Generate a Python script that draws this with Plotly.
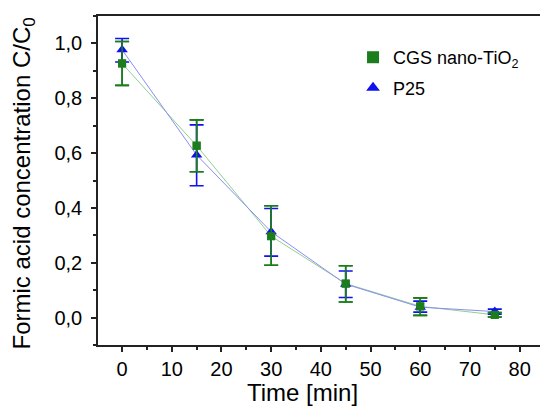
import plotly.graph_objects as go

time_min = [0, 15, 30, 45, 60, 75]

cgs_values = [0.927, 0.627, 0.297, 0.124, 0.041, 0.010]
cgs_err_plus = [0.080, 0.094, 0.111, 0.065, 0.031, 0.008]
cgs_err_minus = [0.080, 0.095, 0.106, 0.067, 0.033, 0.008]

p25_values = [0.977, 0.593, 0.313, 0.122, 0.038, 0.022]
p25_err_plus = [0.041, 0.110, 0.085, 0.048, 0.022, 0.009]
p25_err_minus = [0.045, 0.112, 0.089, 0.049, 0.018, 0.010]

series_names = ["CGS nano-TiO<sub>2</sub>", "P25"]

green = "#1c7d1c"
blue = "#1010f0"

fig = go.Figure()

# connecting lines (thin, light)
fig.add_trace(go.Scatter(x=time_min, y=cgs_values, mode="lines",
                         line=dict(color="#8fd08f", width=1), showlegend=False, hoverinfo="skip"))
fig.add_trace(go.Scatter(x=time_min, y=p25_values, mode="lines",
                         line=dict(color="#8c8cf5", width=1), showlegend=False, hoverinfo="skip"))

fig.add_trace(go.Scatter(
    x=time_min, y=cgs_values, mode="markers", name=series_names[0], legendgroup="a",
    marker=dict(symbol="square", size=8, color=green),
    error_y=dict(type="data", symmetric=False, array=cgs_err_plus, arrayminus=cgs_err_minus,
                 color=green, thickness=1.6, width=7),
))
fig.add_trace(go.Scatter(
    x=time_min, y=p25_values, mode="markers", name=series_names[1], legendgroup="b",
    marker=dict(symbol="triangle-up", size=10, color=blue),
    error_y=dict(type="data", symmetric=False, array=p25_err_plus, arrayminus=p25_err_minus,
                 color=blue, thickness=1.6, width=7),
))
# redraw green markers on top
fig.add_trace(go.Scatter(
    x=time_min, y=cgs_values, mode="markers", showlegend=False, hoverinfo="skip",
    marker=dict(symbol="square", size=8, color=green),
    error_y=dict(type="data", symmetric=False, array=cgs_err_plus, arrayminus=cgs_err_minus,
                 color=green, thickness=1.6, width=7),
))

axis_font = dict(family="Liberation Sans, Arial, sans-serif", size=20, color="black")
line_col = "#222"

fig.update_layout(
    width=540, height=411,
    margin=dict(l=98, r=0, t=16, b=66),
    paper_bgcolor="white", plot_bgcolor="white",
    separators=", ",
    font=dict(family="Liberation Sans, Arial, sans-serif", color="black"),
    showlegend=True,
    legend=dict(x=0.577, y=0.93, xanchor="left", yanchor="top",
                bgcolor="rgba(0,0,0,0)", font=dict(size=18, color="black"),
                itemsizing="constant", tracegroupgap=4, traceorder="grouped"),
    xaxis=dict(range=[-4.85, 84.1], tickvals=[0, 10, 20, 30, 40, 50, 60, 70, 80],
               ticks="outside", ticklen=5, tickwidth=1.5, tickcolor=line_col,
               showline=True, linecolor=line_col, linewidth=1.5, mirror=True,
               showgrid=False, zeroline=False, tickfont=axis_font,
               minor=dict(ticks="outside", ticklen=3, tickwidth=1.5, tickcolor=line_col, dtick=5,
                          tick0=0, showgrid=False)),
    yaxis=dict(range=[-0.1, 1.1], tickvals=[0, 0.2, 0.4, 0.6, 0.8, 1.0], tickformat=".1f",
               ticks="outside", ticklen=5, tickwidth=1.5, tickcolor=line_col,
               showline=True, linecolor=line_col, linewidth=1.5, ticklabelstandoff=5,
               showgrid=False, zeroline=False, tickfont=axis_font,
               minor=dict(ticks="outside", ticklen=3, tickwidth=1.5, tickcolor=line_col, dtick=0.1,
                          tick0=0, showgrid=False)),
    annotations=[
        dict(text="Time [min]", x=(302 - 98) / 442, y=-0.145, xref="paper", yref="paper",
             xanchor="center", yanchor="middle", showarrow=False,
             font=dict(size=24, color="black")),
        dict(text="Formic acid concentration C/C<sub>0</sub>", x=-0.168, y=0.49,
             xref="paper", yref="paper", xanchor="center", yanchor="middle",
             textangle=-90, showarrow=False, font=dict(size=24, color="black")),
    ],
)

fig.write_html("out.html")
